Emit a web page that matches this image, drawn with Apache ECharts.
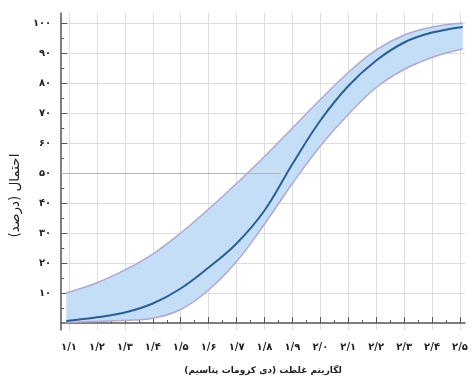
<!DOCTYPE html>
<html>
<head>
<meta charset="utf-8">
<script src="https://cdn.jsdelivr.net/npm/echarts@6/dist/echarts.min.js"></script>
<style>
  html, body { margin: 0; padding: 0; background: #fff; }
  #main { width: 475px; height: 385px; }
</style>
</head>
<body>
<div id="main"></div>
<script>
// concentration (log) sampled along the curve
const xs = [1.09, 1.2, 1.3, 1.4, 1.5, 1.6, 1.7, 1.8, 1.9, 2.0, 2.1, 2.2, 2.3, 2.4, 2.51];
// probability (%)
const center = [0.7, 1.9, 3.5, 6.5, 11.5, 18.5, 26.5, 37.5, 53, 67.5, 79, 87.5, 93.5, 96.8, 98.7];
const lower  = [0.2, 0.5, 0.9, 1.6, 4.5, 11, 20.5, 33, 46.5, 59, 69.5, 78.5, 84.5, 88.5, 91.3];
const upper  = [10, 13.4, 17.7, 23, 30, 38, 46.5, 55.5, 65, 74.5, 83.5, 91, 96, 98.7, 100];

const xTicks = [1.1, 1.2, 1.3, 1.4, 1.5, 1.6, 1.7, 1.8, 1.9, 2.0, 2.1, 2.2, 2.3, 2.4, 2.5];
const xMinorTicks = [1.15, 1.25, 1.35, 1.45, 1.55, 1.65, 1.75, 1.85, 1.95, 2.05, 2.15, 2.25, 2.35, 2.45];
const yTicks = [10, 20, 30, 40, 50, 60, 70, 80, 90, 100];
const yMinorTicks = [5, 15, 25, 35, 45, 55, 65, 75, 85, 95];

const xName = '\u200Fلگاریتم غلظت (دی کرومات پتاسیم)\u200F';
const yName = '\u200Fاحتمال (درصد)\u200F';

const X_MIN = 1.072, X_MAX = 2.518;
const Y_MIN = -2.33, Y_MAX = 103.33;

const faDigits = '۰۱۲۳۴۵۶۷۸۹';
function toFa(s) {
  return String(s).replace(/[0-9]/g, d => faDigits[+d]);
}

const axisColor = '#555';
const gridColor = '#dedede';
const bandEdge = '#b0a8d0';
const font = 'DejaVu Sans';

const chart = echarts.init(document.getElementById('main'), null, { renderer: 'canvas' });

// band series keep the probability in dim 0 so that stacking happens on y
const bandEncode = { x: 1, y: 0 };

chart.setOption({
  animation: false,
  backgroundColor: '#fff',
  grid: { left: 53, right: 10, top: 13, bottom: 55 },
  xAxis: [
    {
      type: 'value', min: X_MIN, max: X_MAX, position: 'bottom',
      name: xName, nameLocation: 'middle', nameGap: 36,
      nameTextStyle: { fontFamily: font, fontSize: 9, fontWeight: 'bold', color: '#222' },
      axisLine: { show: true, lineStyle: { color: axisColor, width: 1.5 } },
      axisTick: { show: true, inside: true, length: 6, customValues: xTicks, lineStyle: { color: axisColor } },
      axisLabel: {
        customValues: xTicks, margin: 12,
        fontFamily: font, fontSize: 10, fontWeight: 'bold', color: '#222',
        formatter: v => toFa(v.toFixed(1).replace('.', '/'))
      },
      splitLine: { show: true, lineStyle: { color: gridColor, width: 1 } }
    },
    {
      type: 'value', min: X_MIN, max: X_MAX, position: 'bottom',
      axisLine: { show: false },
      axisTick: { show: true, inside: true, length: 3, customValues: xMinorTicks, lineStyle: { color: axisColor } },
      axisLabel: { show: false },
      splitLine: { show: false }
    }
  ],
  yAxis: [
    {
      type: 'value', min: Y_MIN, max: Y_MAX, position: 'left',
      name: yName, nameLocation: 'middle', nameGap: 33,
      nameTextStyle: { fontFamily: font, fontSize: 13.5, color: '#222', padding: [0, 48, 0, 0] },
      axisLine: { show: true, lineStyle: { color: axisColor, width: 1.5 } },
      axisTick: { show: true, inside: true, length: 6, customValues: yTicks, lineStyle: { color: axisColor } },
      axisLabel: {
        customValues: yTicks, margin: 10,
        fontFamily: font, fontSize: 10, fontWeight: 'bold', color: '#222',
        formatter: v => toFa(v)
      },
      splitLine: { show: true, lineStyle: { color: gridColor, width: 1 } }
    },
    {
      type: 'value', min: Y_MIN, max: Y_MAX, position: 'left',
      axisLine: { show: false },
      axisTick: { show: true, inside: true, length: 3, customValues: yMinorTicks, lineStyle: { color: axisColor } },
      axisLabel: { show: false },
      splitLine: { show: false }
    }
  ],
  series: [
    {
      name: 'lower',
      type: 'line',
      stack: 'ci',
      smooth: 0.4,
      symbol: 'none',
      encode: bandEncode,
      data: xs.map((x, i) => [lower[i], x]),
      lineStyle: { color: bandEdge, width: 1.5 },
      z: 2
    },
    {
      name: 'band',
      type: 'line',
      stack: 'ci',
      smooth: 0.4,
      symbol: 'none',
      encode: bandEncode,
      data: xs.map((x, i) => [upper[i] - lower[i], x]),
      lineStyle: { color: bandEdge, width: 1.5 },
      areaStyle: { color: '#c4def7', opacity: 1 },
      z: 2
    },
    {
      name: 'center',
      type: 'line',
      smooth: 0.4,
      symbol: 'none',
      data: xs.map((x, i) => [x, center[i]]),
      lineStyle: { color: '#2b5f93', width: 2 },
      z: 3,
      markLine: {
        silent: true,
        symbol: 'none',
        label: { show: false },
        lineStyle: { color: '#b5b5b5', width: 1.2, type: 'solid' },
        data: [[{ coord: [X_MIN, 50] }, { coord: [1.86, 50] }]]
      }
    }
  ]
});
</script>
</body>
</html>
